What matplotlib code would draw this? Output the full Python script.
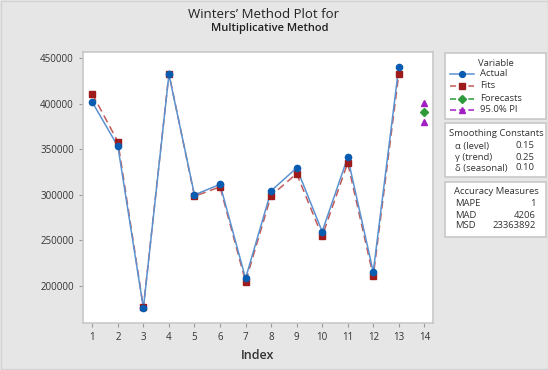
import matplotlib
matplotlib.use("Agg")
from matplotlib import pyplot, ticker
from matplotlib.lines import Line2D
from matplotlib.patches import Rectangle

pyplot.rcParams["font.family"] = ["Open Sans", "Noto Sans", "DejaVu Sans"]

var_name = "ก"
index = [1, 2, 3, 4, 5, 6, 7, 8, 9, 10, 11, 12, 13]
actual = [401500, 353200, 175800, 432000, 299900, 311500, 208400,
          304300, 329500, 259700, 341100, 215400, 440000]
fits = [410600, 358300, 176500, 433000, 298400, 308700, 204800,
        299100, 323200, 254500, 335000, 210600, 432500]
fc_index = [14]
forecast = [390500]
pi_upper = [400800]
pi_lower = [380000]

smoothing = [("α (level)", "0.15"), ("γ (trend)", "0.25"), ("δ (seasonal)", "0.10")]
accuracy = [("MAPE", "1"), ("MAD", "4206"), ("MSD", "23363892")]

blue, blue_line = "#0a5cb0", "#5b92d0"
red, red_line = "#9e1b1b", "#c45a5a"
green = "#2e9a3a"
purple = "#a21fc4"
text_col = "#333333"
edge_col = "#c8c8c8"


def main():
    W, H = 548, 370
    fig = pyplot.figure(figsize=(W / 100, H / 100), dpi=100)
    fig.patch.set_facecolor("#e6e6e6")

    ax = fig.add_axes([83 / W, 1 - 323 / H, 350 / W, 271 / H])
    ax.set_facecolor("white")

    ax.plot(index, actual, color=blue_line, lw=1.1, zorder=3)
    ax.plot(index, actual, ls="none", marker="o", ms=4.5, color=blue, zorder=4)
    ax.plot(index, fits, color=red_line, lw=1.1, dashes=(5, 3), zorder=2)
    ax.plot(index, fits, ls="none", marker="s", ms=3.8, color=red, zorder=3)
    ax.plot(fc_index, forecast, ls="none", marker="D", ms=4, color=green)
    ax.plot(fc_index, pi_upper, ls="none", marker="^", ms=4.5, color=purple)
    ax.plot(fc_index, pi_lower, ls="none", marker="^", ms=4.5, color=purple)

    ax.set_xlim(0.635, 14.34)
    ax.set_ylim(159400, 456600)
    ax.xaxis.set_major_locator(ticker.FixedLocator(range(1, 15)))
    ax.yaxis.set_major_locator(ticker.MultipleLocator(50000))
    ax.tick_params(labelsize=7, colors="#9a9a9a", labelcolor=text_col,
                   length=3, width=0.8)
    for s in ax.spines.values():
        s.set_color(edge_col)
        s.set_linewidth(1.2)

    ax.set_xlabel("Index", fontsize=9, color=text_col, fontweight="semibold")
    ax.xaxis.set_label_coords(0.5, -0.095)
    ax.set_ylabel(var_name, fontsize=9, color=text_col)
    ax.yaxis.set_label_coords(-0.155, 0.5)

    fig.text(269 / W, 1 - 15 / H, "Winters’ Method Plot for " + var_name,
             ha="center", va="center", fontsize=9.5, color="#222222")
    fig.text(270 / W, 1 - 28 / H, "Multiplicative Method", ha="center",
             va="center", fontsize=8, fontweight="semibold", color="#222222")

    # side panels drawn in pixel space
    side = fig.add_axes([0, 0, 1, 1], zorder=-1)
    side.set_xlim(0, W)
    side.set_ylim(H, 0)
    side.axis("off")
    side.add_patch(Rectangle((0.5, 0.5), W - 1, H - 1.5, fill=False,
                             ec="#d2d2d2", lw=1))
    for y0, y1 in [(52.5, 119), (123, 177), (182, 237)]:
        side.add_patch(Rectangle((445, y0), 101, y1 - y0, fc="white",
                                 ec=edge_col, lw=1.2))

    fs = 6.8
    side.text(496, 63, "Variable", ha="center", va="center", fontsize=fs,
              color=text_col)
    handles = [
        (74, blue_line, "-", "o", blue, "Actual"),
        (86, red_line, "--", "s", red, "Fits"),
        (98.5, green, "--", "D", green, "Forecasts"),
        (110, purple, "--", "^", purple, "95.0% PI"),
    ]
    for y, lc, ls, mk, mc, lab in handles:
        side.add_line(Line2D([450, 474], [y, y], color=lc, lw=1.1, ls=ls,
                             dashes=(4, 2) if ls == "--" else (None, None)))
        side.add_line(Line2D([462], [y], marker=mk, ms=4.2 if mk != "D" else 3.6,
                             color=mc, ls="none"))
        side.text(480, y, lab, va="center", fontsize=fs, color=text_col)

    side.text(496, 134, "Smoothing Constants", ha="center", va="center",
              fontsize=fs, color=text_col)
    for i, (lab, val) in enumerate(smoothing):
        y = 146 + i * 11
        side.text(455, y, lab, va="center", fontsize=fs, color=text_col)
        side.text(535, y, val, va="center", ha="right", fontsize=fs,
                  color=text_col)

    side.text(496, 192, "Accuracy Measures", ha="center", va="center",
              fontsize=fs, color=text_col)
    for i, (lab, val) in enumerate(accuracy):
        y = 204 + i * 11
        side.text(455, y, lab, va="center", fontsize=fs, color=text_col)
        side.text(536, y, val, va="center", ha="right", fontsize=fs,
                  color=text_col)

    fig.savefig("out.png", dpi=100)


if __name__ == "__main__":
    main()
